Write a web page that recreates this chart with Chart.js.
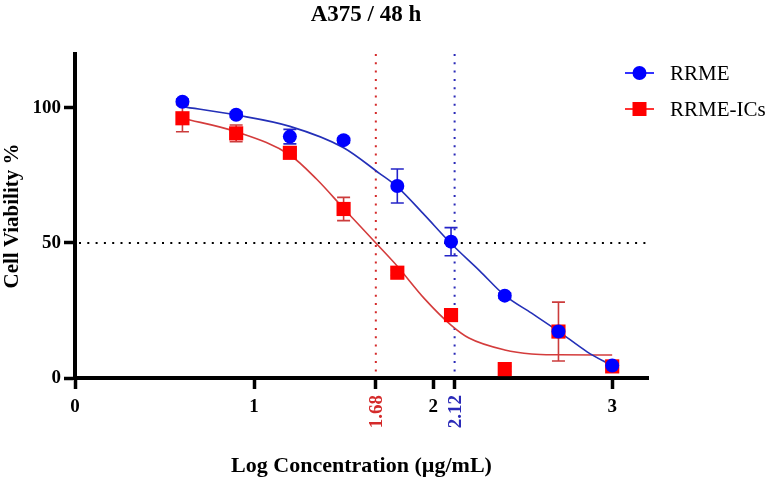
<!DOCTYPE html>
<html>
<head>
<meta charset="utf-8">
<script src="https://cdn.jsdelivr.net/npm/chart.js@4"></script>
<style>
  html, body { margin: 0; padding: 0; background: #fff; }
  #wrap { width: 774px; height: 487px; }
</style>
</head>
<body>
<div id="wrap"><canvas id="chart-1"></canvas></div>
<script>
// doses (log ug/mL) and mean viability
var dose_x = [0.6, 0.9, 1.2, 1.5, 1.8, 2.1, 2.4, 2.7, 3.0];
var rrme_y = [102.3, 97.5, 89.4, 88.1, 71.1, 50.5, 30.5, 17.2, 4.6];
var rrme_err = [1, 1, 2.7, 1, 6.3, 5.2, 1, 1, 1];
var rrme_ics_y = [96.2, 90.6, 83.4, 62.6, 39.0, 23.3, 3.3, 17.2, 4.3];
var rrme_ics_err = [5, 3.1, 1, 4.3, 1, 1, 1, 10.9, 1];

// fitted curves
var rrme_fit_x = [0.6, 0.9, 1.2, 1.5, 1.7, 1.8, 1.95, 2.1, 2.26, 2.4, 2.55, 2.7, 2.86, 3.0];
var rrme_fit_y = [100.5, 97.4, 93.2, 85.3, 75.8, 70.8, 60.5, 49.8, 39.7, 30.6, 24.0, 17.3, 9.7, 4.5];
var rrme_ics_fit_x = [0.6, 0.9, 1.2, 1.35, 1.5, 1.68, 1.8, 1.95, 2.1, 2.2, 2.4, 2.55, 2.7, 3.0];
var rrme_ics_fit_y = [96.2, 91.2, 82.6, 73.6, 62.8, 50.0, 41.4, 29.5, 19.6, 14.8, 10.4, 8.9, 8.6, 8.5];

var x_ticks = [0, 1, 2, 3];
var y_ticks = [0, 50, 100];
var ic50_values = [1.68, 2.12];
var ic50_colors = ['#d42a2a', '#2a2ab8'];
var half_line = 50;

var serif = "'Liberation Serif', 'Times New Roman', serif";
var blue = '#0000ff';
var red = '#ff0000';

function toPoints(xs, ys) {
    var pts = [];
    for (let i = 0; i < xs.length; i++) {
        pts.push({ x: xs[i], y: ys[i] });
    }
    return pts;
}

var extras = {
    id: 'extras',
    beforeDatasetsDraw: function(chart) {
        const ctx = chart.ctx;
        const xs = chart.scales.x;
        const ys = chart.scales.y;
        const area = chart.chartArea;
        ctx.save();
        // dotted 50% line
        ctx.setLineDash([2, 6.3]);
        ctx.lineWidth = 2;
        ctx.strokeStyle = '#000';
        let py = ys.getPixelForValue(half_line);
        ctx.beginPath();
        ctx.moveTo(area.left + 4, py);
        ctx.lineTo(area.right, py);
        ctx.stroke();
        // IC50 lines
        for (let i = 0; i < ic50_values.length; i++) {
            let px = xs.getPixelForValue(ic50_values[i]);
            ctx.strokeStyle = ic50_colors[i];
            ctx.beginPath();
            ctx.moveTo(px, area.top);
            ctx.lineTo(px, area.bottom - 2);
            ctx.stroke();
        }
        ctx.setLineDash([]);
        // error bars
        const sets = [[rrme_y, rrme_err, '#2424c8'], [rrme_ics_y, rrme_ics_err, '#cc3c3c']];
        ctx.lineWidth = 1.6;
        sets.forEach(function(s) {
            ctx.strokeStyle = s[2];
            for (let i = 0; i < dose_x.length; i++) {
                let px = xs.getPixelForValue(dose_x[i]);
                let top = ys.getPixelForValue(s[0][i] + s[1][i]);
                let bot = ys.getPixelForValue(s[0][i] - s[1][i]);
                ctx.beginPath();
                ctx.moveTo(px, top); ctx.lineTo(px, bot);
                ctx.moveTo(px - 6.5, top); ctx.lineTo(px + 6.5, top);
                ctx.moveTo(px - 6.5, bot); ctx.lineTo(px + 6.5, bot);
                ctx.stroke();
            }
        });
        ctx.restore();
    },
    afterDraw: function(chart) {
        const ctx = chart.ctx;
        const xs = chart.scales.x;
        ctx.save();
        // title
        ctx.fillStyle = '#000';
        ctx.font = 'bold 23px ' + serif;
        ctx.textAlign = 'center';
        ctx.textBaseline = 'middle';
        ctx.fillText('A375 / 48 h', 366, 15);
        // rotated IC50 labels
        ctx.font = 'bold 19px ' + serif;
        for (let i = 0; i < ic50_values.length; i++) {
            let px = xs.getPixelForValue(ic50_values[i]);
            ctx.save();
            ctx.translate(px, 395);
            ctx.rotate(-Math.PI / 2);
            ctx.textAlign = 'right';
            ctx.fillStyle = ic50_colors[i];
            ctx.fillText(ic50_values[i].toFixed(2), 0, 1);
            ctx.restore();
        }
        // legend
        const items = [['RRME', blue, 'circle'], ['RRME-ICs', red, 'rect']];
        ctx.font = '21px ' + serif;
        ctx.textAlign = 'left';
        for (let i = 0; i < items.length; i++) {
            let ly = 73 + i * 36;
            ctx.strokeStyle = items[i][1];
            ctx.lineWidth = 1.6;
            ctx.beginPath();
            ctx.moveTo(625, ly); ctx.lineTo(654, ly);
            ctx.stroke();
            ctx.fillStyle = items[i][1];
            ctx.beginPath();
            if (items[i][2] == 'circle') {
                ctx.arc(639.5, ly, 7, 0, Math.PI * 2);
            } else {
                ctx.rect(632.5, ly - 7, 14, 14);
            }
            ctx.fill();
            ctx.fillStyle = '#000';
            ctx.fillText(items[i][0], 670, ly + 1);
        }
        ctx.restore();
    }
};

const ctx = document.getElementById('chart-1').getContext('2d');
const myChart = new Chart(ctx, {
    type: 'scatter',
    data: {
        datasets: [{
            label: 'RRME',
            data: toPoints(dose_x, rrme_y),
            pointStyle: 'circle',
            pointRadius: 7,
            backgroundColor: blue,
            borderColor: blue,
            borderWidth: 0,
            order: 0,
        }, {
            label: 'RRME-ICs',
            data: toPoints(dose_x, rrme_ics_y),
            pointStyle: 'rect',
            pointRadius: 10,
            backgroundColor: red,
            borderColor: red,
            borderWidth: 0,
            order: 1,
        }, {
            label: 'RRME fit',
            data: toPoints(rrme_fit_x, rrme_fit_y),
            showLine: true,
            pointRadius: 0,
            borderColor: '#2430b8',
            borderWidth: 1.6,
            cubicInterpolationMode: 'monotone',
            order: 2,
        }, {
            label: 'RRME-ICs fit',
            data: toPoints(rrme_ics_fit_x, rrme_ics_fit_y),
            showLine: true,
            pointRadius: 0,
            borderColor: '#d43c3c',
            borderWidth: 1.6,
            cubicInterpolationMode: 'monotone',
            order: 3,
        }],
    },
    options: {
        responsive: true,
        maintainAspectRatio: false,
        animation: false,
        layout: {
            padding: { left: 0, right: 126, top: 54, bottom: 0 },
        },
        plugins: {
            legend: { display: false },
            tooltip: { enabled: false },
        },
        scales: {
            x: {
                type: 'linear',
                min: 0,
                max: 3.2,
                afterBuildTicks: function(scale) {
                    scale.ticks = x_ticks.concat(ic50_values).sort().map(function(v) { return { value: v }; });
                },
                afterFit: function(scale) { scale.height = 109; },
                border: { width: 4, color: '#000' },
                grid: {
                    drawOnChartArea: false,
                    drawTicks: true,
                    tickLength: 11,
                    tickWidth: 3.5,
                    color: '#000',
                },
                ticks: {
                    autoSkip: false,
                    maxRotation: 0,
                    padding: 7,
                    color: '#000',
                    font: { family: serif, size: 19, weight: 'bold' },
                    callback: function(v) {
                        return x_ticks.indexOf(v) >= 0 ? String(v) : '';
                    },
                },
                title: {
                    display: true,
                    text: 'Log Concentration (µg/mL)',
                    color: '#000',
                    font: { family: serif, size: 22, weight: 'bold' },
                    padding: { top: 0, bottom: 7 },
                },
            },
            y: {
                min: 0,
                max: 120,
                afterBuildTicks: function(scale) {
                    scale.ticks = y_ticks.map(function(v) { return { value: v }; });
                },
                afterFit: function(scale) { scale.width = 75; },
                border: { width: 4, color: '#000' },
                grid: {
                    drawOnChartArea: false,
                    drawTicks: true,
                    tickLength: 11,
                    tickWidth: 3.5,
                    color: '#000',
                },
                ticks: {
                    padding: 3,
                    color: '#000',
                    font: { family: serif, size: 19, weight: 'bold' },
                },
                title: {
                    display: true,
                    text: 'Cell Viability %',
                    color: '#000',
                    font: { family: serif, size: 21, weight: 'bold' },
                    padding: { top: 0, bottom: 0 },
                },
            },
        },
    },
    plugins: [extras],
});
</script>
</body>
</html>
